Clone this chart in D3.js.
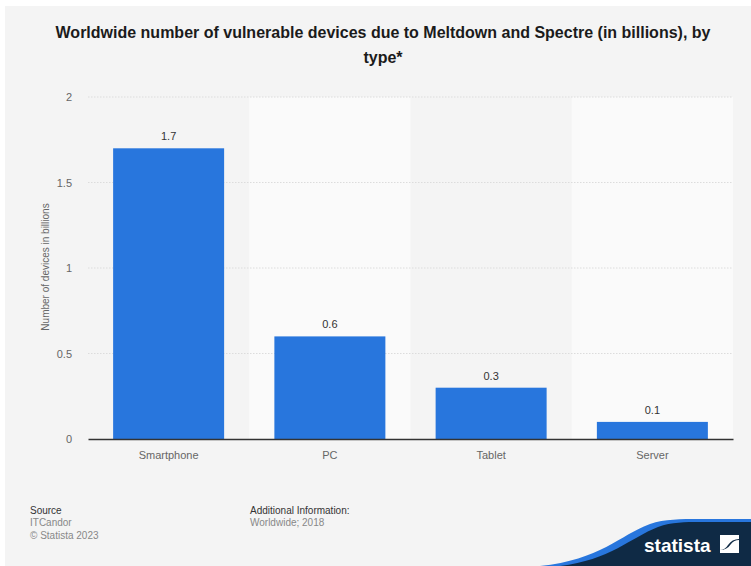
<!DOCTYPE html>
<html>
<head>
<meta charset="utf-8">
<script src="https://cdn.jsdelivr.net/npm/d3@7"></script>
<style>
  html, body { margin: 0; padding: 0; background: #ffffff; }
  svg { display: block; font-family: "Liberation Sans", Arial, sans-serif; }
</style>
</head>
<body>
<svg id="chart" width="751" height="566"></svg>
<script>
// Device types and vulnerable device counts (billions)
const categories = ["Smartphone", "PC", "Tablet", "Server"];
const values = [1.7, 0.6, 0.3, 0.1];
const valueLabels = ["1.7", "0.6", "0.3", "0.1"];
const yTicks = [0, 0.5, 1, 1.5, 2];
const yTickLabels = ["0", "0.5", "1", "1.5", "2"];

const titleLines = [
  "Worldwide number of vulnerable devices due to Meltdown and Spectre (in billions), by",
  "type*"
];
const yAxisTitle = "Number of devices in billions";

const svg = d3.select("#chart");
const W = 751, H = 566;

// panel background
svg.append("rect").attr("x", 5).attr("y", 6).attr("width", W - 5).attr("height", H - 6)
  .attr("fill", "#f4f4f4");

// title
svg.append("g").selectAll("text").data(titleLines).join("text")
  .attr("x", 383).attr("y", (d, i) => 38 + i * 25)
  .attr("text-anchor", "middle")
  .attr("font-size", 16).attr("font-weight", "bold").attr("fill", "#1b1b1b")
  .text(d => d);

const plot = { left: 88, right: 733, top: 97, bottom: 439 };

const x = d3.scaleBand().domain(categories).range([plot.left, plot.right]).paddingInner(0).paddingOuter(0);
const y = d3.scaleLinear().domain([0, 2]).range([plot.bottom, plot.top]);

// alternating column bands
svg.append("g").selectAll("rect").data(categories.filter((d, i) => i % 2 === 1)).join("rect")
  .attr("x", d => x(d)).attr("y", plot.top)
  .attr("width", x.bandwidth()).attr("height", plot.bottom - plot.top)
  .attr("fill", "#fafafa");

// gridlines
svg.append("g").selectAll("line").data(yTicks.filter(t => t > 0)).join("line")
  .attr("x1", plot.left).attr("x2", plot.right)
  .attr("y1", d => y(d)).attr("y2", d => y(d))
  .attr("stroke", "#dcdcdc").attr("stroke-width", 1).attr("stroke-dasharray", "1.5,1.5");

// y axis tick labels
const yAxis = d3.axisLeft(y).tickValues(yTicks).tickFormat((d, i) => yTickLabels[i]).tickSize(0).tickPadding(16);
const yg = svg.append("g").attr("transform", `translate(${plot.left},0)`).call(yAxis);
yg.select(".domain").remove();
yg.selectAll("text").attr("font-size", 11).attr("fill", "#666").attr("font-family", "Liberation Sans, Arial, sans-serif");

// y axis title
svg.append("text")
  .attr("transform", `translate(49,${(plot.top + plot.bottom) / 2 - 1}) rotate(-90)`)
  .attr("text-anchor", "middle").attr("font-size", 10).attr("fill", "#666")
  .text(yAxisTitle);

// bars
const barW = 111;
svg.append("g").selectAll("rect").data(values).join("rect")
  .attr("x", (d, i) => x(categories[i]) + (x.bandwidth() - barW) / 2)
  .attr("y", d => y(d))
  .attr("width", barW)
  .attr("height", d => plot.bottom - y(d))
  .attr("fill", "#2876dd");

// value labels
svg.append("g").selectAll("text").data(values).join("text")
  .attr("x", (d, i) => x(categories[i]) + x.bandwidth() / 2)
  .attr("y", d => y(d) - 8)
  .attr("text-anchor", "middle").attr("font-size", 11).attr("fill", "#333")
  .text((d, i) => valueLabels[i]);

// x axis
const xAxis = d3.axisBottom(x).tickSize(0).tickPadding(12);
const xg = svg.append("g").attr("transform", `translate(0,${plot.bottom})`).call(xAxis);
xg.select(".domain").attr("stroke", "#333").attr("stroke-width", 1.5);
xg.selectAll("text").attr("font-size", 11).attr("fill", "#666").attr("font-family", "Liberation Sans, Arial, sans-serif");

// footer
const foot = svg.append("g").attr("font-size", 10);
foot.append("text").attr("x", 30).attr("y", 514).attr("fill", "#333").text("Source");
foot.append("text").attr("x", 30).attr("y", 526).attr("fill", "#888").text("ITCandor");
foot.append("text").attr("x", 30).attr("y", 539).attr("fill", "#888").text("© Statista 2023");
foot.append("text").attr("x", 250).attr("y", 514).attr("fill", "#333").text("Additional Information:");
foot.append("text").attr("x", 250).attr("y", 526).attr("fill", "#888").text("Worldwide; 2018");

// brand corner
const brand = svg.append("g");
brand.append("path")
  .attr("d", "M540,566 C600,560 620,535 650,524 C665,519 680,519 700,519 L751,519 L751,566 Z")
  .attr("fill", "#2876dd");
brand.append("path")
  .attr("d", "M560,566 C610,560 630,538 658,527 C672,522 685,522 700,522 L751,522 L751,566 Z")
  .attr("fill", "#0f2a45");
brand.append("text").attr("x", 644).attr("y", 552)
  .attr("font-size", 19).attr("font-weight", "bold").attr("fill", "#ffffff")
  .attr("font-family", "Liberation Sans Narrow, Liberation Sans, Arial, sans-serif")
  .text("statista");
// logo mark: square split by a diagonal wave
brand.append("path")
  .attr("d", "M720,535 L739,535 L739,539 Q732,539 728,545 Q725,550 720,550 Z")
  .attr("fill", "#ffffff");
brand.append("path")
  .attr("d", "M739,553 L720,553 L720,550 Q727,550 731,544 Q734,540 739,540 Z")
  .attr("fill", "#ffffff");
</script>
</body>
</html>
